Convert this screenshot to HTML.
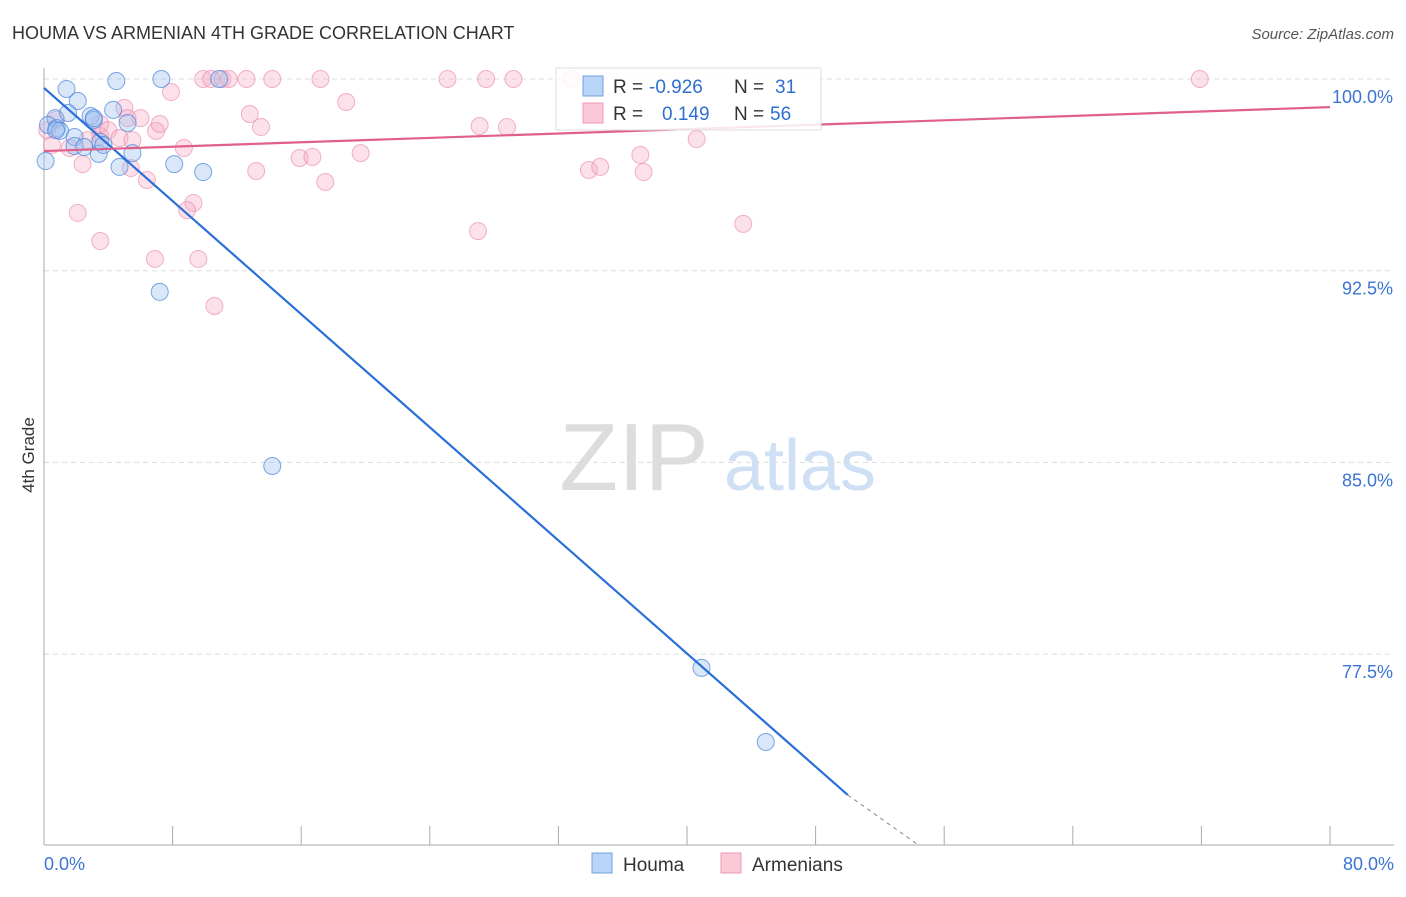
<!DOCTYPE html>
<html><head><meta charset="utf-8"><style>
body{margin:0;background:#fff;font-family:"Liberation Sans",sans-serif}
svg text{font-family:"Liberation Sans",sans-serif}
</style></head><body>
<svg id="chart" width="1406" height="892">
<text x="12" y="39" font-size="18" fill="#333">HOUMA VS ARMENIAN 4TH GRADE CORRELATION CHART</text>
<text x="1394" y="39" font-size="15" fill="#555" font-style="italic" text-anchor="end">Source: ZipAtlas.com</text>
<text x="634" y="490" font-size="96" fill="#ddd" font-family="Liberation Serif" text-anchor="middle">ZIP</text>
<text x="800" y="490" font-size="72" fill="#cfe0f4" text-anchor="middle">atlas</text>
<text transform="translate(34,455) rotate(-90)" font-size="17" fill="#333" text-anchor="middle">4th Grade</text>
<g id="grid"></g><g id="pts"></g><g id="lines"></g>
<g>
<rect x="556" y="68" width="265" height="62" fill="#fff" fill-opacity="0.85" stroke="#ddd"/>
<rect x="583" y="76" width="20" height="20" fill="#b8d4f6" stroke="#6fa0e0"/>
<rect x="583" y="103" width="20" height="20" fill="#fbc8d8" stroke="#ee9ab4"/>
<text x="613" y="93" font-size="19" fill="#333">R =</text>
<text x="649" y="93" font-size="19" fill="#2f6fd0">-0.926</text>
<text x="734" y="93" font-size="19" fill="#333">N =</text>
<text x="775" y="93" font-size="19" fill="#2f6fd0">31</text>
<text x="613" y="120" font-size="19" fill="#333">R =</text>
<text x="662" y="120" font-size="19" fill="#2f6fd0">0.149</text>
<text x="734" y="120" font-size="19" fill="#333">N =</text>
<text x="770" y="120" font-size="19" fill="#2f6fd0">56</text>
</g>
<g>
<rect x="592" y="853" width="20" height="20" fill="#b8d4f6" stroke="#6fa0e0"/>
<text x="623" y="871" font-size="19" fill="#333">Houma</text>
<rect x="721" y="853" width="20" height="20" fill="#fbc8d8" stroke="#ee9ab4"/>
<text x="752" y="871" font-size="19" fill="#333">Armenians</text>
</g>
</svg>
<script>
const yTicks=[100,92.5,85,77.5];
const yTickLabels=["100.0%","92.5%","85.0%","77.5%"];
const xTickLabels=["0.0%","80.0%"];
const houmaX=[1.4,4.5,7.3,10.9,0.7,0.25,0.8,1.0,2.1,1.5,2.9,3.1,4.3,5.2,1.9,3.5,1.9,2.5,3.4,5.5,4.7,3.7,8.1,9.9,0.1,7.2,14.2,40.9,44.9,3.1,0.75];
const houmaY=[99.61,99.92,100,100,98.47,98.2,98.08,97.97,99.14,98.67,98.55,98.4,98.79,98.28,97.73,97.54,97.38,97.34,97.07,97.1,96.56,97.42,96.67,96.36,96.79,91.67,84.86,76.96,74.06,98.47,98.0];
const armX=[0.75,0.2,0.5,1.6,2.4,3.5,3.5,4.0,4.7,5.0,5.2,5.5,5.4,6.0,6.4,6.97,7.2,7.9,8.7,9.3,8.9,2.1,3.5,6.9,9.6,10.6,9.9,10.4,11.1,11.5,12.6,14.2,17.2,12.8,13.5,13.2,15.9,16.7,17.5,18.8,19.7,25.1,27.5,29.2,32.8,27.1,28.8,27.0,33.9,34.6,37.1,37.3,40.6,43.5,71.9,2.7];
const armY=[98.4,98.0,97.42,97.3,96.67,97.77,98.24,98.0,97.69,98.87,98.47,97.61,96.52,98.47,96.05,97.97,98.24,99.49,97.3,95.15,94.87,94.76,93.66,92.96,92.96,91.12,100,100,100,100,100,100,100,98.63,98.12,96.4,96.91,96.95,95.97,99.1,97.1,100,100,100,100,98.16,98.12,94.05,96.44,96.56,97.03,96.36,97.65,94.33,100,97.61];
const houmaLine=[[0,99.65],[50,71.99]];
const houmaDash=[[50,71.99],[54.4,70.03]];
const armLine=[[0,97.18],[80,98.9]];
const NS="http://www.w3.org/2000/svg";
const X=v=>44+v/80*1286, Y=v=>79+(100-v)/7.5*191.7;
function mk(t,a,p){const e=document.createElementNS(NS,t);for(const k in a)e.setAttribute(k,a[k]);p.appendChild(e);return e;}
const grid=document.getElementById('grid');
yTicks.forEach((t,i)=>{
 const l=mk('line',{x1:44,x2:1394,y1:Y(t),y2:Y(t),stroke:'#ddd','stroke-dasharray':'5,4'},grid);
 
 
 const tx=mk('text',{x:1393,y:Y(t)+24,'font-size':18,fill:'#3b74d4','text-anchor':'end'},grid);
 tx.textContent=yTickLabels[i];
 
 
});
const ax=mk('line',{x1:44,x2:44,y1:68,y2:845,stroke:'#aaa'},grid);


const bx=mk('line',{x1:44,x2:1394,y1:845,y2:845,stroke:'#aaa'},grid);


for(let i=0;i<=10;i++){const t=mk('line',{x1:X(i*8),x2:X(i*8),y1:826,y2:845,stroke:'#aaa'},grid);
 
 }
[[0,'start',44],[80,'end',1394]].forEach((d,i)=>{const t=mk('text',{x:d[2],y:870,'font-size':18,fill:'#3b74d4','text-anchor':d[1]},grid);t.textContent=xTickLabels[i];
 
 });
const pts=document.getElementById('pts');
armX.forEach((x,i)=>{const c=mk('circle',{cx:X(x),cy:Y(armY[i]),r:8.5,fill:'rgba(246,170,195,0.35)',stroke:'rgba(232,130,165,0.6)'},pts);
 
 });
houmaX.forEach((x,i)=>{const c=mk('circle',{cx:X(x),cy:Y(houmaY[i]),r:8.5,fill:'rgba(160,196,240,0.4)',stroke:'rgba(70,130,220,0.7)'},pts);
 
 });
const lines=document.getElementById('lines');
const l1=mk('line',{x1:X(houmaLine[0][0]),y1:Y(houmaLine[0][1]),x2:X(houmaLine[1][0]),y2:Y(houmaLine[1][1]),stroke:'#2a6fd8','stroke-width':2.2},lines);


const l2=mk('line',{x1:X(houmaDash[0][0]),y1:Y(houmaDash[0][1]),x2:X(houmaDash[1][0]),y2:Y(houmaDash[1][1]),stroke:'#888','stroke-dasharray':'4,4'},lines);


const l3=mk('line',{x1:X(armLine[0][0]),y1:Y(armLine[0][1]),x2:X(armLine[1][0]),y2:Y(armLine[1][1]),stroke:'#e0608a','stroke-width':2.2},lines);


</script>
</body></html>
